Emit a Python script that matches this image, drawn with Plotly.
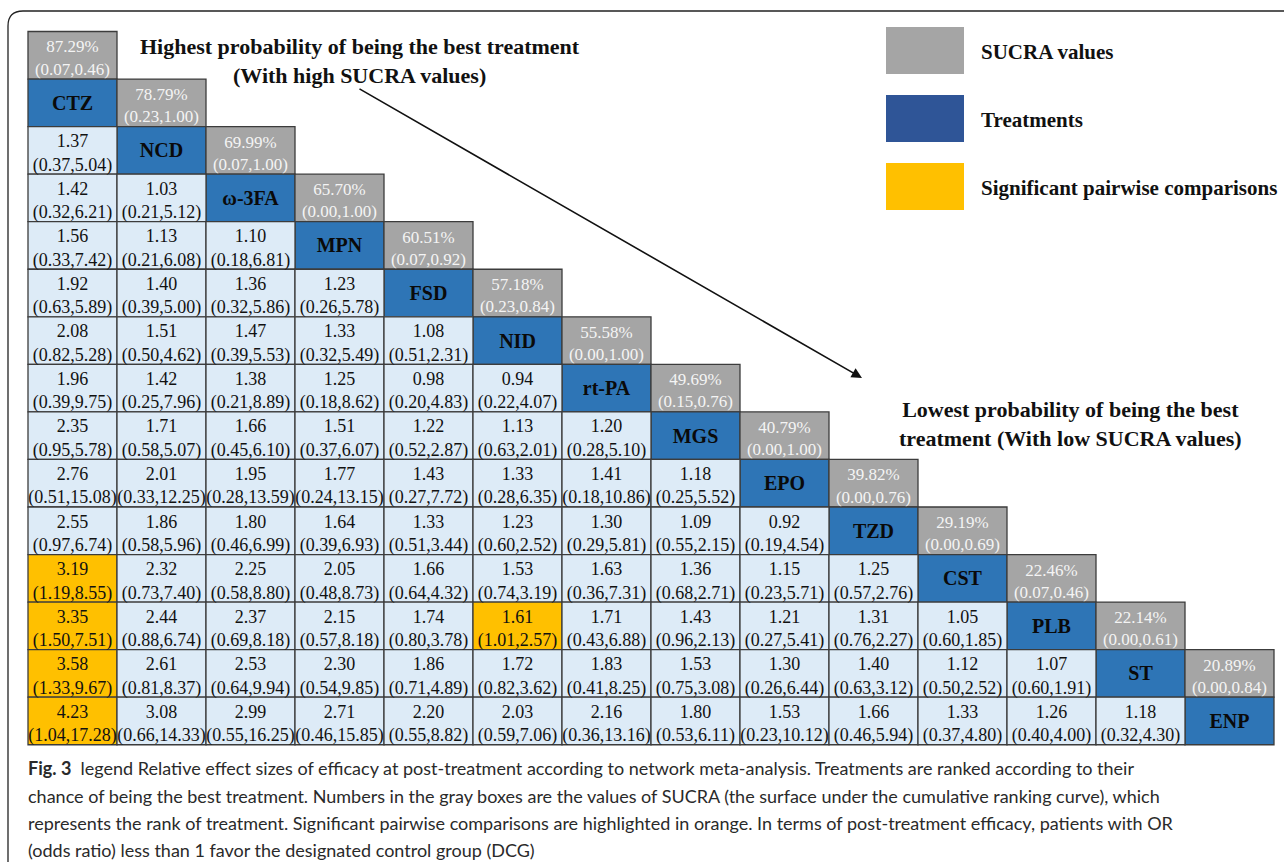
import plotly.graph_objects as go

W, H = 1284, 862

treatments = ["CTZ", "NCD", "ω-3FA", "MPN", "FSD", "NID", "rt-PA", "MGS",
              "EPO", "TZD", "CST", "PLB", "ST", "ENP"]
sucra = [87.29, 78.79, 69.99, 65.70, 60.51, 57.18, 55.58, 49.69,
         40.79, 39.82, 29.19, 22.46, 22.14, 20.89]
sucra_lo = [0.07, 0.23, 0.07, 0.00, 0.07, 0.23, 0.00, 0.15, 0.00, 0.00, 0.00, 0.07, 0.00, 0.00]
sucra_hi = [0.46, 1.00, 1.00, 1.00, 0.92, 0.84, 1.00, 0.76, 1.00, 0.76, 0.69, 0.46, 0.61, 0.84]

# lower triangle: row treatment i (1..13) vs column treatment j (0..i-1)
or_est = [
    [1.37],
    [1.42, 1.03],
    [1.56, 1.13, 1.10],
    [1.92, 1.40, 1.36, 1.23],
    [2.08, 1.51, 1.47, 1.33, 1.08],
    [1.96, 1.42, 1.38, 1.25, 0.98, 0.94],
    [2.35, 1.71, 1.66, 1.51, 1.22, 1.13, 1.20],
    [2.76, 2.01, 1.95, 1.77, 1.43, 1.33, 1.41, 1.18],
    [2.55, 1.86, 1.80, 1.64, 1.33, 1.23, 1.30, 1.09, 0.92],
    [3.19, 2.32, 2.25, 2.05, 1.66, 1.53, 1.63, 1.36, 1.15, 1.25],
    [3.35, 2.44, 2.37, 2.15, 1.74, 1.61, 1.71, 1.43, 1.21, 1.31, 1.05],
    [3.58, 2.61, 2.53, 2.30, 1.86, 1.72, 1.83, 1.53, 1.30, 1.40, 1.12, 1.07],
    [4.23, 3.08, 2.99, 2.71, 2.20, 2.03, 2.16, 1.80, 1.53, 1.66, 1.33, 1.26, 1.18],
]
or_lo = [
    [0.37],
    [0.32, 0.21],
    [0.33, 0.21, 0.18],
    [0.63, 0.39, 0.32, 0.26],
    [0.82, 0.50, 0.39, 0.32, 0.51],
    [0.39, 0.25, 0.21, 0.18, 0.20, 0.22],
    [0.95, 0.58, 0.45, 0.37, 0.52, 0.63, 0.28],
    [0.51, 0.33, 0.28, 0.24, 0.27, 0.28, 0.18, 0.25],
    [0.97, 0.58, 0.46, 0.39, 0.51, 0.60, 0.29, 0.55, 0.19],
    [1.19, 0.73, 0.58, 0.48, 0.64, 0.74, 0.36, 0.68, 0.23, 0.57],
    [1.50, 0.88, 0.69, 0.57, 0.80, 1.01, 0.43, 0.96, 0.27, 0.76, 0.60],
    [1.33, 0.81, 0.64, 0.54, 0.71, 0.82, 0.41, 0.75, 0.26, 0.63, 0.50, 0.60],
    [1.04, 0.66, 0.55, 0.46, 0.55, 0.59, 0.36, 0.53, 0.23, 0.46, 0.37, 0.40, 0.32],
]
or_hi = [
    [5.04],
    [6.21, 5.12],
    [7.42, 6.08, 6.81],
    [5.89, 5.00, 5.86, 5.78],
    [5.28, 4.62, 5.53, 5.49, 2.31],
    [9.75, 7.96, 8.89, 8.62, 4.83, 4.07],
    [5.78, 5.07, 6.10, 6.07, 2.87, 2.01, 5.10],
    [15.08, 12.25, 13.59, 13.15, 7.72, 6.35, 10.86, 5.52],
    [6.74, 5.96, 6.99, 6.93, 3.44, 2.52, 5.81, 2.15, 4.54],
    [8.55, 7.40, 8.80, 8.73, 4.32, 3.19, 7.31, 2.71, 5.71, 2.76],
    [7.51, 6.74, 8.18, 8.18, 3.78, 2.57, 6.88, 2.13, 5.41, 2.27, 1.85],
    [9.67, 8.37, 9.94, 9.85, 4.89, 3.62, 8.25, 3.08, 6.44, 3.12, 2.52, 1.91],
    [17.28, 14.33, 16.25, 15.85, 8.82, 7.06, 13.16, 6.11, 10.12, 5.94, 4.80, 4.00, 4.30],
]

legend_items = ["SUCRA values", "Treatments", "Significant pairwise comparisons"]
note_high = "Highest probability of being the best treatment<br>(With high SUCRA values)"
note_low = "Lowest probability of being the best<br>treatment (With low SUCRA values)"
caption_lines = [
    "<b>Fig. 3</b>  legend Relative effect sizes of efficacy at post-treatment according to network meta-analysis. Treatments are ranked according to their",
    "chance of being the best treatment. Numbers in the gray boxes are the values of SUCRA (the surface under the cumulative ranking curve), which",
    "represents the rank of treatment. Significant pairwise comparisons are highlighted in orange. In terms of post-treatment efficacy, patients with OR",
    "(odds ratio) less than 1 favor the designated control group (DCG)",
]

# ---- styling ----
C_GRAY = "#a5a5a5"
C_BLUE = "#2e75b6"
C_LEG_BLUE = "#2f5597"
C_LIGHT = "#ddebf7"
C_ORANGE = "#ffc000"
C_EDGE = "#3c3c3c"
SERIF = "Liberation Serif, Times New Roman, serif"
SANS = "Lato, Open Sans, sans-serif"

GX0, GW = 28.0, 89.0       # grid left pixel, column width
GY0, GH = 31.5, 47.55      # grid top pixel, row height
TXT_DY = 4.0 / GH          # small downward nudge for two-line cell text
NAME_DY = 2.0 / GH


def px(x):
    return x / W


def py(y):
    return 1 - y / H


shapes = []
num_x, num_y, num_t = [], [], []
suc_x, suc_y, suc_t = [], [], []
nam_x, nam_y, nam_t = [], [], []


def cell(c, r, color):
    shapes.append(dict(type="rect", xref="x", yref="y", x0=c, x1=c + 1, y0=r, y1=r + 1,
                       fillcolor=color, line=dict(color=C_EDGE, width=1.3), layer="below"))


n = len(treatments)
for i in range(n):
    cell(i, i, C_GRAY)
    suc_x.append(i + 0.5); suc_y.append(i + 0.5 + TXT_DY)
    suc_t.append(f"{sucra[i]:.2f}%<br>({sucra_lo[i]:.2f},{sucra_hi[i]:.2f})")
    cell(i, i + 1, C_BLUE)
    nam_x.append(i + 0.5); nam_y.append(i + 1.5 + NAME_DY)
    nam_t.append(f"<b>{treatments[i]}</b>")

for k, row in enumerate(or_est):
    i = k + 1
    for j, v in enumerate(row):
        lo, hi = or_lo[k][j], or_hi[k][j]
        sig = lo > 1 or hi < 1
        cell(j, i + 1, C_ORANGE if sig else C_LIGHT)
        num_x.append(j + 0.5); num_y.append(i + 1.5 + TXT_DY)
        num_t.append(f"{v:.2f}<br>({lo:.2f},{hi:.2f})")

fig = go.Figure()
fig.add_trace(go.Scatter(x=num_x, y=num_y, text=num_t, mode="text", textposition="middle center",
                         textfont=dict(family=SERIF, size=18, color="#111111"), hoverinfo="skip"))
fig.add_trace(go.Scatter(x=suc_x, y=suc_y, text=suc_t, mode="text", textposition="middle center",
                         textfont=dict(family=SERIF, size=17, color="#f4f4f4"), hoverinfo="skip"))
fig.add_trace(go.Scatter(x=nam_x, y=nam_y, text=nam_t, mode="text", textposition="middle center",
                         textfont=dict(family=SERIF, size=20, color="#0a0a0a"), hoverinfo="skip"))

# frame with rounded top-left corner
shapes.append(dict(type="path", xref="paper", yref="paper",
                   path=f"M {px(8)} {py(862)} L {px(8)} {py(26)} Q {px(8)} {py(11)} {px(23)} {py(11)} L {px(1284)} {py(11)}",
                   line=dict(color="#222222", width=1.3)))

annotations = []
leg_colors = [C_GRAY, C_LEG_BLUE, C_ORANGE]
leg_y = [27, 95, 163]
for lab, col, y0 in zip(legend_items, leg_colors, leg_y):
    shapes.append(dict(type="rect", xref="paper", yref="paper", x0=px(886), x1=px(964),
                       y0=py(y0 + 47), y1=py(y0), fillcolor=col, line=dict(width=0)))
    annotations.append(dict(xref="paper", yref="paper", x=px(979), y=py(y0 + 25), text=f"<b>{lab}</b>",
                            showarrow=False, xanchor="left", yanchor="middle",
                            font=dict(family=SERIF, size=21, color="#111111")))

annotations.append(dict(xref="paper", yref="paper", x=px(360), y=py(61), text=f"<b>{note_high}</b>",
                        showarrow=False, xanchor="center", yanchor="middle", align="center",
                        font=dict(family=SERIF, size=22, color="#111111")))
annotations.append(dict(xref="paper", yref="paper", x=px(1070), y=py(424), text=f"<b>{note_low}</b>",
                        showarrow=False, xanchor="center", yanchor="middle", align="center",
                        font=dict(family=SERIF, size=22, color="#111111")))
annotations.append(dict(xref="paper", yref="paper", x=px(862), y=py(378), text="",
                        showarrow=True, ax=358 - 862, ay=88 - 378, arrowhead=2, arrowsize=1.3,
                        arrowwidth=1.6, arrowcolor="#111111"))

cap_y = [768, 796, 823, 850]
for t, y in zip(caption_lines, cap_y):
    annotations.append(dict(xref="paper", yref="paper", x=px(26), y=py(y), text=t,
                            showarrow=False, xanchor="left", yanchor="middle",
                            font=dict(family=SANS, size=18, color="#2a2a2a")))

fig.update_layout(
    width=W, height=H, margin=dict(l=0, r=0, t=0, b=0),
    paper_bgcolor="white", plot_bgcolor="white", showlegend=False,
    xaxis=dict(range=[-GX0 / GW, (W - GX0) / GW], visible=False, fixedrange=True),
    yaxis=dict(range=[(H - GY0) / GH, -GY0 / GH], visible=False, fixedrange=True),
    shapes=shapes, annotations=annotations,
)

fig.write_html("out.html", config={"displayModeBar": False},
               post_script="document.body.style.margin='0';document.body.style.overflow='hidden';")
